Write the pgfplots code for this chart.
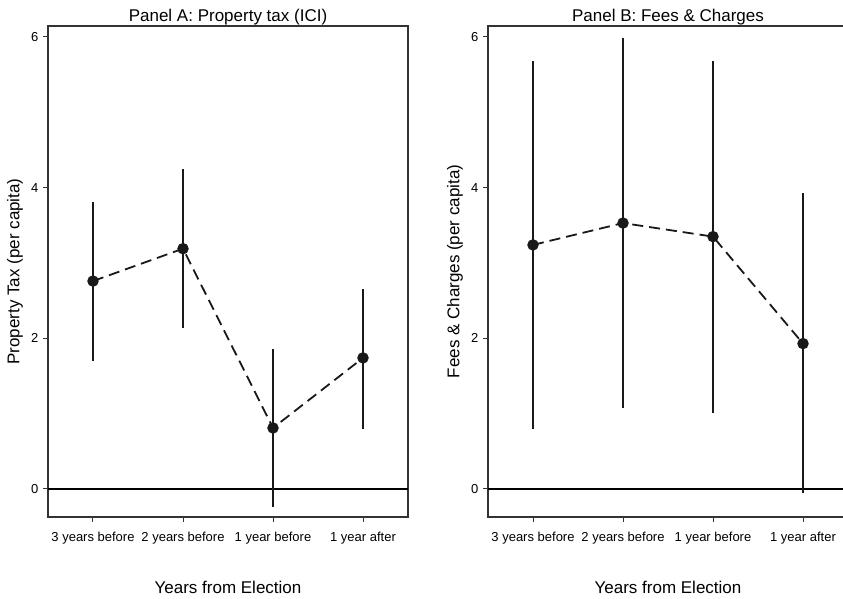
\documentclass[border=0pt]{standalone}
\usepackage{fontspec}
\setmainfont{Liberation Sans}
\usepackage{pgfplots}
\usepackage{pgfplotstable}
\pgfplotsset{compat=1.18}
\pgfplotstableread{
x y lo hi
0 2.76 1.70 3.81
1 3.19 2.14 4.25
2 0.81 -0.24 1.86
3 1.74 0.80 2.65
}\dataA
\pgfplotstableread{
x y lo hi
0 3.24 0.79 5.68
1 3.53 1.07 5.99
2 3.35 1.01 5.68
3 1.93 -0.05 3.93
}\dataB
\pgfplotsset{
 myax/.style={
  scale only axis, width=360pt, height=491pt,
  xmin=-0.5, xmax=3.5, ymin=-0.372, ymax=6.146,
  xtick={0,1,2,3},
  xticklabels={3 years before,2 years before,1 year before,1 year after},
  ytick={0,2,4,6},
  tick align=outside, tick pos=left, major tick length=5pt,
  axis line style={line width=1.3pt, color=black!80},
  tick style={line width=1pt, black!80},
  tick label style={font=\fontsize{13}{15}\selectfont},
  xticklabel style={yshift=-7pt},
  yticklabel style={xshift=-1pt},
  /pgf/number format/assume math mode=true,
  label style={font=\fontsize{17}{20}\selectfont},
  title style={font=\fontsize{17}{20}\selectfont, at={(axis description cs:0.5,1)}, anchor=base, yshift=-2pt},
  xlabel={Years from Election},
  xlabel style={at={(axis description cs:0.5,-0.1426)},anchor=center},
  ylabel style={at={(axis description cs:-0.092,0.5)},anchor=center},
 },
 ciplot/.style={
  black!90, line width=1.8pt, dash pattern=on 11pt off 6pt,
  mark=*, mark size=4.8pt, mark options={solid, fill=black!90, draw=black!90},
  error bars/.cd, y dir=both, y explicit, error mark=none,
  error bar style={solid, line width=2pt, black!90},
 },
}
\begin{document}
\begin{tikzpicture}
\useasboundingbox (0pt,0pt) rectangle (843pt,599pt);
\clip (0pt,0pt) rectangle (843pt,599pt);
\begin{axis}[myax, at={(48pt,82pt)}, anchor=south west,
  title={Panel A: Property tax (ICI)},
  ylabel={Property Tax (per capita)}]
\addplot[black, line width=1.5pt, forget plot] coordinates {(-0.5,0) (3.5,0)};
\addplot[ciplot] table[x=x, y=y, y error plus expr=\thisrow{hi}-\thisrow{y}, y error minus expr=\thisrow{y}-\thisrow{lo}] {\dataA};
\end{axis}
\begin{axis}[myax, at={(488pt,82pt)}, anchor=south west,
  title={Panel B: Fees \& Charges},
  ylabel={Fees \& Charges (per capita)}]
\addplot[black, line width=1.5pt, forget plot] coordinates {(-0.5,0) (3.5,0)};
\addplot[ciplot] table[x=x, y=y, y error plus expr=\thisrow{hi}-\thisrow{y}, y error minus expr=\thisrow{y}-\thisrow{lo}] {\dataB};
\end{axis}
\end{tikzpicture}
\end{document}
